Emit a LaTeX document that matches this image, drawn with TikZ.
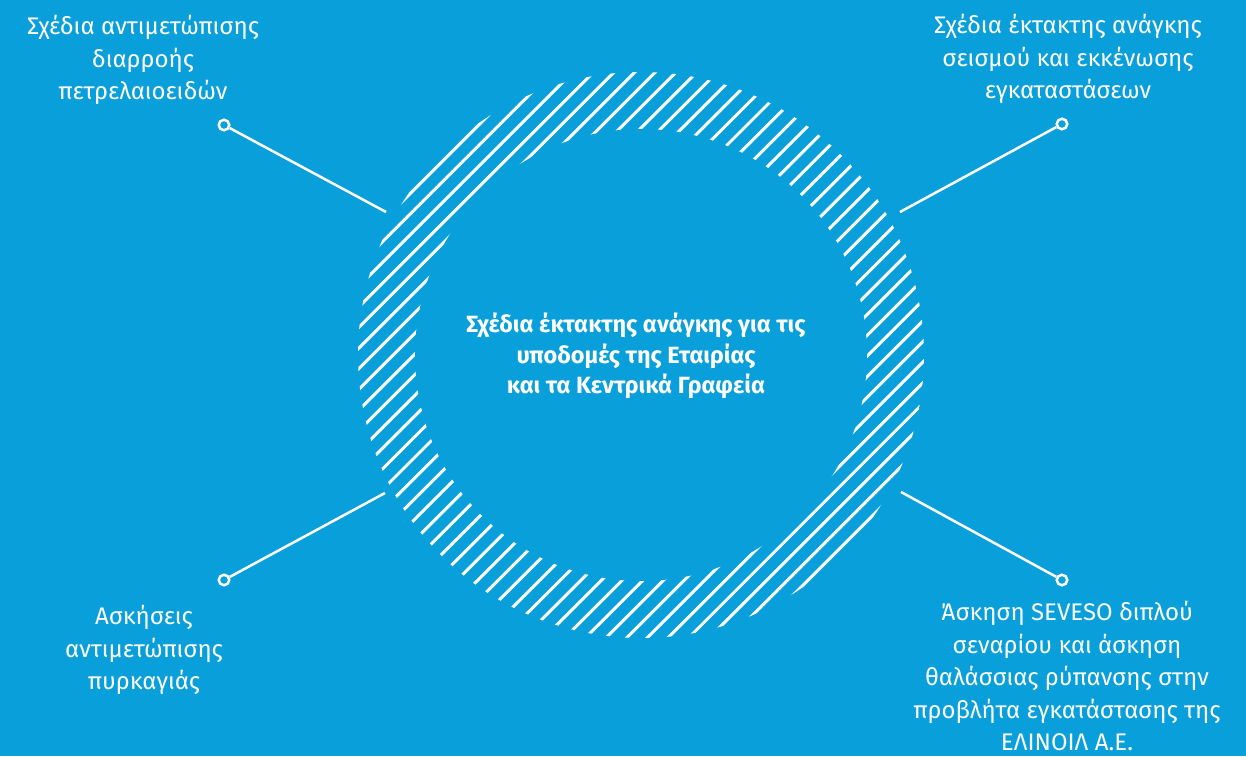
\documentclass[tikz,border=0pt]{standalone}
\usepackage{fontspec}
\setmainfont{Fira Sans}
\usetikzlibrary{calc}
\definecolor{bgblue}{HTML}{099FDA}
\tikzset{
		hatch/.style={white, line width=3pt},
		ring gap/.style={fill=bgblue},
		pin dot/.style={circle, draw=white, fill=bgblue, line width=2.5pt, inner sep=0pt, minimum size=10.5pt},
		pin line/.style={white, line width=2.5pt},
		label text/.style={text=white, align=center, font=\fontsize{24}{32.5}\selectfont},
		centre text/.style={text=white, align=center, font=\bfseries\fontsize{23.5}{30.5}\selectfont}
	}
\begin{document}
\begin{tikzpicture}[x=1pt,y=1pt]
				\useasboundingbox (0,0) rectangle (1246,756);
				\fill[bgblue] (0,0) rectangle (1246,756);
				\coordinate (ctr) at (641,401);

				\begin{scope}
					\clip (ctr) circle (283pt);
					\begin{scope}[shift={(ctr)}, rotate=45]
						\foreach \k in {-21,...,21}
							\draw[hatch] (-300,\k*14.6) -- (300,\k*14.6);
					\end{scope}
				\end{scope}
				\fill[ring gap] (ctr) circle (226pt);

				\node[centre text] (plans) at (636,400) {Σχέδια έκτακτης ανάγκης για τις\\υποδομές της Εταιρίας\\και τα Κεντρικά Γραφεία};

				\node[pin dot] (oil)     at (224,631) {};
				\node[pin dot] (quake)   at (1062,632) {};
				\node[pin dot] (fire)    at (224,176) {};
				\node[pin dot] (seveso)  at (1062,176) {};
				\coordinate (oil end)    at (386,544);
				\coordinate (quake end)  at (900,544);
				\coordinate (fire end)   at (385,263);
				\coordinate (seveso end) at (901,264);

				\draw[pin line] (oil) -- (oil end);
				\draw[pin line] (quake) -- (quake end);
				\draw[pin line] (fire) -- (fire end);
				\draw[pin line] (seveso) -- (seveso end);

				\node[label text] (oil text)    at (143,696)  {Σχέδια αντιμετώπισης\\διαρροής\\πετρελαιοειδών};
				\node[label text] (quake text)  at (1068,697) {Σχέδια έκτακτης ανάγκης\\σεισμού και εκκένωσης\\εγκαταστάσεων};
				\node[label text] (fire text)   at (144,106)  {Ασκήσεις\\αντιμετώπισης\\πυρκαγιάς};
				\node[label text] (seveso text) at (1067,80)  {Άσκηση SEVESO διπλού\\σεναρίου και άσκηση\\θαλάσσιας ρύπανσης στην\\προβλήτα εγκατάστασης της\\ΕΛΙΝΟΙΛ Α.Ε.};
			\end{tikzpicture}
\end{document}
